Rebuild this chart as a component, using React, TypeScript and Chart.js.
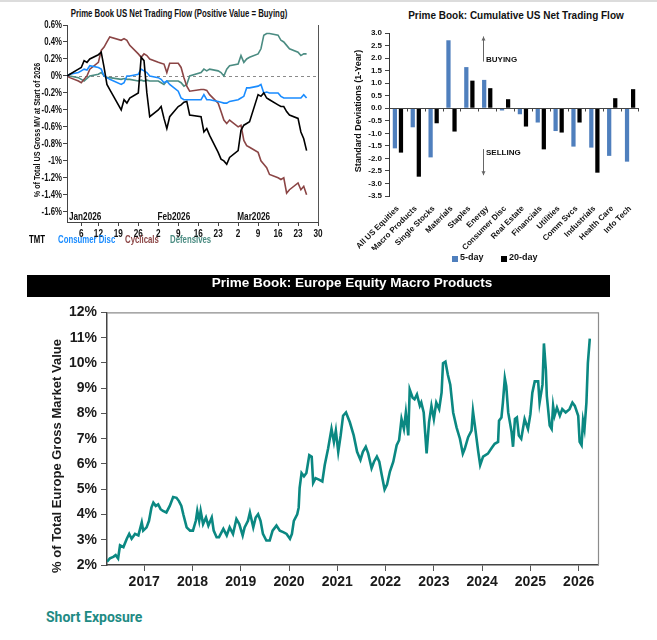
import React, { useEffect, useRef } from "react";
import { Chart, registerables } from "chart.js";

Chart.register(...registerables);

const SANS = "'Liberation Sans', Arial, sans-serif";
const NARROW_SX = 0.78;

// ---------- Chart 1: Prime Book US Net Trading Flow ----------
const flowDays = [0, 1, 4, 5, 6, 7, 8, 11, 12, 13, 14, 15, 19, 20, 21, 22, 25, 26, 27, 28, 29, 32, 33, 34, 35, 36, 39, 40, 41, 42, 43, 47, 48, 49, 50, 53, 54, 55, 56, 57, 60, 61, 62, 63, 64, 67, 68, 69, 70, 71, 74, 75, 76, 77, 78, 81, 82, 83, 84];
const flowTMT = [0, 0.02, 0.08, 0.1, 0.18, 0.16, 0.2, 0.25, 0.28, 0.1, -0.1, -0.16, -0.4, -0.28, -0.32, -0.26, -0.2, 0.22, 0.18, -0.2, -0.48, -0.4, -0.36, -0.5, -0.62, -0.48, -0.36, -0.34, -0.31, -0.3, -0.46, -0.48, -0.66, -0.62, -0.7, -0.9, -0.98, -1.0, -1.04, -0.96, -0.88, -0.64, -0.58, -0.56, -0.54, -0.22, -0.24, -0.2, -0.26, -0.28, -0.34, -0.36, -0.36, -0.42, -0.46, -0.5, -0.66, -0.74, -0.88];
const flowConsumerDisc = [0, 0.02, 0.04, 0.06, 0.08, 0.07, 0.12, 0.1, 0.08, 0.0, -0.02, -0.04, -0.1, -0.08, 0.0, 0.0, 0.02, 0.08, 0.06, 0.04, 0.0, -0.02, -0.04, -0.08, -0.06, -0.1, -0.18, -0.26, -0.28, -0.28, -0.28, -0.28, -0.22, -0.28, -0.28, -0.3, -0.31, -0.32, -0.32, -0.3, -0.28, -0.26, -0.24, -0.14, -0.14, -0.12, -0.1, -0.2, -0.19, -0.2, -0.2, -0.24, -0.26, -0.26, -0.26, -0.26, -0.26, -0.22, -0.26];
const flowCyclicals = [0, -0.02, -0.06, -0.08, -0.04, 0.0, 0.08, 0.16, 0.3, 0.34, 0.4, 0.46, 0.42, 0.44, 0.42, 0.36, 0.26, 0.22, 0.26, 0.24, 0.2, 0.16, 0.15, 0.14, 0.04, 0.15, 0.15, 0.1, -0.02, -0.12, -0.18, -0.16, -0.16, -0.17, -0.22, -0.32, -0.42, -0.52, -0.56, -0.52, -0.6, -0.58, -0.76, -0.82, -0.84, -0.9, -1.0, -1.04, -1.08, -1.16, -1.2, -1.22, -1.2, -1.38, -1.34, -1.26, -1.34, -1.3, -1.4];
const flowDefensives = [0, 0.0, -0.02, -0.04, -0.06, -0.03, 0.0, 0.02, 0.04, 0.0, -0.02, -0.02, -0.04, -0.03, -0.04, -0.04, -0.06, -0.05, -0.06, -0.05, -0.06, -0.06, -0.08, -0.1, -0.06, -0.06, -0.06, -0.08, -0.12, -0.1, 0.0, 0.04, 0.08, 0.06, 0.08, 0.06, 0.04, 0.0, 0.08, 0.12, 0.14, 0.24, 0.16, 0.2, 0.22, 0.26, 0.32, 0.48, 0.5, 0.5, 0.48, 0.42, 0.4, 0.36, 0.32, 0.28, 0.24, 0.26, 0.26];
const flowTickDays = [5, 11, 18, 25, 32, 39, 46, 53, 60, 67, 74, 81, 88];
const flowTickLabels = ["6", "12", "19", "26", "2", "9", "16", "23", "2", "9", "16", "23", "30"];
const flowMonthStarts = [0, 31, 59];
const flowMonthLabels = ["Jan2026", "Feb2026", "Mar2026"];
const flowYTicks = [-1.6, -1.4, -1.2, -1.0, -0.8, -0.6, -0.4, -0.2, 0, 0.2, 0.4, 0.6];
const flowSeriesNames = ["TMT", "Consumer Disc", "Cyclicals", "Defensives"];
const flowColors = ["#000000", "#1a8cff", "#8b4545", "#4b8c82"];

// ---------- Chart 2: Cumulative US Net Trading Flow ----------
const sectorCategories = ["All US Equities", "Macro Products", "Single Stocks", "Materials", "Staples", "Energy", "Consumer Disc", "Real Estate", "Financials", "Utilities", "Comm Svcs", "Industrials", "Health Care", "Info Tech"];
const sector5Day = [-1.6, -0.76, -1.96, 2.71, 1.64, 1.13, -0.09, -0.24, -0.57, -0.91, -1.53, -1.57, -1.9, -2.13];
const sector20Day = [-1.77, -2.73, -0.6, -0.93, 1.1, 0.8, 0.36, -0.73, -1.64, -0.97, -0.57, -2.57, 0.4, 0.76];
const buyingArrow = [1.86, 2.86];
const sellingArrow = [-1.63, -2.67];

// ---------- Chart 3: Europe Equity Macro Products ----------
const euroYears = [2016.23, 2016.29, 2016.36, 2016.41, 2016.46, 2016.5, 2016.57, 2016.64, 2016.69, 2016.74, 2016.81, 2016.88, 2016.95, 2016.98, 2017.05, 2017.1, 2017.15, 2017.19, 2017.24, 2017.29, 2017.34, 2017.39, 2017.46, 2017.53, 2017.6, 2017.67, 2017.72, 2017.77, 2017.81, 2017.88, 2017.95, 2018.01, 2018.07, 2018.1, 2018.14, 2018.17, 2018.22, 2018.28, 2018.33, 2018.4, 2018.44, 2018.5, 2018.55, 2018.64, 2018.71, 2018.77, 2018.84, 2018.91, 2018.97, 2019.04, 2019.08, 2019.15, 2019.19, 2019.26, 2019.31, 2019.36, 2019.41, 2019.46, 2019.53, 2019.6, 2019.66, 2019.74, 2019.81, 2019.88, 2019.95, 2020.02, 2020.06, 2020.1, 2020.17, 2020.2, 2020.22, 2020.26, 2020.31, 2020.36, 2020.42, 2020.47, 2020.5, 2020.55, 2020.62, 2020.69, 2020.74, 2020.81, 2020.88, 2020.93, 2020.97, 2021.02, 2021.07, 2021.12, 2021.18, 2021.26, 2021.34, 2021.41, 2021.48, 2021.53, 2021.59, 2021.64, 2021.71, 2021.76, 2021.82, 2021.87, 2021.92, 2021.98, 2022.03, 2022.09, 2022.16, 2022.23, 2022.28, 2022.33, 2022.38, 2022.42, 2022.47, 2022.5, 2022.56, 2022.6, 2022.65, 2022.71, 2022.74, 2022.79, 2022.85, 2022.9, 2022.95, 2023.0, 2023.05, 2023.11, 2023.16, 2023.19, 2023.24, 2023.29, 2023.34, 2023.4, 2023.47, 2023.54, 2023.6, 2023.64, 2023.71, 2023.78, 2023.81, 2023.85, 2023.92, 2023.96, 2024.02, 2024.12, 2024.19, 2024.26, 2024.33, 2024.35, 2024.4, 2024.43, 2024.47, 2024.5, 2024.54, 2024.61, 2024.64, 2024.68, 2024.72, 2024.76, 2024.81, 2024.88, 2024.95, 2025.0, 2025.04, 2025.09, 2025.16, 2025.19, 2025.25, 2025.28, 2025.32, 2025.34, 2025.4, 2025.44, 2025.47, 2025.5, 2025.55, 2025.61, 2025.66, 2025.73, 2025.81, 2025.87, 2025.92, 2025.99, 2026.02, 2026.06, 2026.09, 2026.12, 2026.16, 2026.19, 2026.23];
const euroShare = [2.13, 2.26, 2.32, 2.39, 2.26, 2.78, 2.71, 3.04, 3.23, 3.04, 3.23, 3.17, 3.69, 3.36, 3.49, 3.75, 4.27, 4.47, 4.34, 4.4, 4.21, 4.14, 4.08, 4.34, 4.69, 4.66, 4.53, 4.34, 4.01, 3.49, 3.36, 3.36, 3.75, 4.14, 3.75, 4.14, 3.62, 3.88, 3.56, 3.88, 3.36, 3.1, 3.1, 3.43, 3.17, 3.49, 3.23, 3.82, 3.62, 3.17, 3.49, 3.75, 4.08, 3.49, 3.88, 4.01, 3.75, 3.23, 2.97, 2.97, 3.36, 3.56, 3.36, 3.3, 3.23, 3.04, 3.23, 3.75, 4.01, 4.27, 5.05, 5.64, 5.51, 5.64, 6.35, 6.29, 5.25, 5.44, 5.38, 5.31, 5.96, 6.61, 7.39, 6.87, 7.32, 6.48, 7.13, 7.91, 8.04, 7.65, 7.13, 6.48, 6.16, 6.48, 6.68, 6.42, 5.83, 6.09, 6.29, 6.09, 5.57, 4.99, 5.18, 5.7, 6.09, 6.74, 6.94, 7.78, 7.39, 8.04, 7.13, 8.95, 8.62, 8.56, 8.75, 8.3, 8.43, 8.04, 6.42, 7.65, 8.3, 7.78, 8.43, 8.17, 8.82, 9.99, 10.05, 9.53, 9.14, 8.04, 7.45, 7.0, 6.41, 6.6, 7.06, 7.32, 8.1, 7.52, 6.48, 5.96, 6.29, 6.41, 6.61, 6.8, 6.87, 7.71, 7.84, 8.43, 9.4, 9.08, 8.04, 7.26, 6.68, 7.78, 7.84, 7.13, 7.0, 7.78, 7.39, 7.97, 8.82, 9.27, 9.27, 8.43, 9.14, 10.77, 9.73, 8.69, 7.52, 7.39, 8.3, 7.91, 8.23, 7.91, 8.17, 8.04, 8.17, 8.43, 8.3, 7.91, 6.87, 6.74, 7.71, 7.39, 8.43, 9.99, 10.96];
const euroTickYears = [2017, 2018, 2019, 2020, 2021, 2022, 2023, 2024, 2025, 2026];

type TextOpts = { size: number; color?: string; align?: CanvasTextAlign; baseline?: CanvasTextBaseline; sx?: number; rotate?: number };

function drawText(ctx: CanvasRenderingContext2D, text: string, x: number, y: number, o: TextOpts) {
  ctx.save();
  ctx.translate(x, y);
  if (o.rotate) ctx.rotate(o.rotate);
  ctx.scale(o.sx ?? 1, 1);
  ctx.font = `bold ${o.size}px ${SANS}`;
  ctx.fillStyle = o.color ?? "#111";
  ctx.textAlign = o.align ?? "left";
  ctx.textBaseline = o.baseline ?? "middle";
  ctx.fillText(text, 0, 0);
  ctx.restore();
}

const flowDecor = {
  id: "flowDecor",
  beforeDatasetsDraw(chart: any) {
    const { ctx, chartArea: a, scales } = chart;
    const y0 = Math.round(scales.y.getPixelForValue(0)) + 0.5;
    ctx.save();
    ctx.strokeStyle = "#8a8a8a";
    ctx.lineWidth = 1;
    ctx.setLineDash([3, 3]);
    ctx.beginPath();
    ctx.moveTo(a.left, y0);
    ctx.lineTo(a.right, y0);
    ctx.stroke();
    ctx.restore();
  },
  afterDraw(chart: any) {
    const { ctx, chartArea: a, scales } = chart;
    ctx.save();
    ctx.strokeStyle = "#555";
    ctx.lineWidth = 1;
    ctx.beginPath();
    ctx.moveTo(a.right + 0.5, a.top);
    ctx.lineTo(a.right + 0.5, a.bottom);
    ctx.stroke();
    ctx.restore();
    scales.y.ticks.forEach((t: any) => {
      drawText(ctx, `${Math.round(t.value * 10) / 10}%`, a.left - 5, scales.y.getPixelForValue(t.value), { size: 10, align: "right", sx: NARROW_SX });
    });
    scales.x.ticks.forEach((t: any, i: number) => {
      drawText(ctx, flowTickLabels[i], scales.x.getPixelForValue(t.value), a.bottom + 12, { size: 10.5, align: "center", sx: NARROW_SX });
    });
    flowMonthStarts.forEach((d, i) => {
      drawText(ctx, flowMonthLabels[i], scales.x.getPixelForValue(d) + 2, a.bottom - 4.5, { size: 10.5, sx: NARROW_SX });
    });
    drawText(ctx, "% of Total US Gross MV at Start of 2026", 37, 130, { size: 9.2, align: "center", sx: NARROW_SX, rotate: -Math.PI / 2 });
  },
};

const sectorDecor = {
  id: "sectorDecor",
  afterDatasetsDraw(chart: any) {
    const { ctx, chartArea: a, scales } = chart;
    const x = scales.x;
    const y = scales.y;
    const y0 = Math.round(y.getPixelForValue(0)) + 0.5;
    ctx.save();
    ctx.strokeStyle = "#444";
    ctx.lineWidth = 1;
    ctx.beginPath();
    ctx.moveTo(a.left, y0);
    ctx.lineTo(a.right, y0);
    for (let i = 0; i < sectorCategories.length; i++) {
      const px = i + 1 < sectorCategories.length ? Math.round((x.getPixelForValue(i) + x.getPixelForValue(i + 1)) / 2) : Math.round(a.right) - 1;
      ctx.moveTo(px + 0.5, y0);
      ctx.lineTo(px + 0.5, y0 + 3);
    }
    ctx.stroke();

    const ax = Math.round(x.getPixelForValue(5) - 4);
    ctx.strokeStyle = "#666";
    ctx.fillStyle = "#666";
    const arrow = (from: number, to: number) => {
      const p1 = y.getPixelForValue(from);
      const p2 = y.getPixelForValue(to);
      const dir = Math.sign(p2 - p1);
      ctx.beginPath();
      ctx.moveTo(ax + 0.5, p1);
      ctx.lineTo(ax + 0.5, p2);
      ctx.stroke();
      ctx.beginPath();
      ctx.moveTo(ax + 0.5, p2);
      ctx.lineTo(ax - 1.5, p2 - dir * 4);
      ctx.lineTo(ax + 2.5, p2 - dir * 4);
      ctx.closePath();
      ctx.fill();
    };
    arrow(buyingArrow[0], buyingArrow[1]);
    arrow(sellingArrow[0], sellingArrow[1]);
    ctx.restore();
    drawText(ctx, "BUYING", ax + 3, y.getPixelForValue(buyingArrow[0] + 0.08), { size: 8 });
    drawText(ctx, "SELLING", ax + 3, y.getPixelForValue(sellingArrow[0] - 0.15), { size: 8 });
    drawText(ctx, "Standard Deviations (1-Year)", 19, 111, { size: 9, align: "center", rotate: -Math.PI / 2 });
  },
};

const euroDecor = {
  id: "euroDecor",
  afterDraw(chart: any) {
    const { ctx, chartArea: a } = chart;
    ctx.save();
    ctx.strokeStyle = "#8c8c8c";
    ctx.lineWidth = 1.2;
    ctx.beginPath();
    ctx.moveTo(a.left, a.top + 0.5);
    ctx.lineTo(a.right + 0.5, a.top + 0.5);
    ctx.lineTo(a.right + 0.5, a.bottom);
    ctx.stroke();
    ctx.restore();
    drawText(ctx, "% of Total Europe Gross Market Value", 57, 156, { size: 13, align: "center", color: "#1a1a1a", rotate: -Math.PI / 2 });
  },
};

function flowConfig(): any {
  const series = [flowTMT, flowConsumerDisc, flowCyclicals, flowDefensives];
  return {
    type: "line",
    data: {
      datasets: series.map((vals, k) => ({
        label: flowSeriesNames[k],
        data: flowDays.map((d, i) => ({ x: d, y: vals[i] })),
        borderColor: flowColors[k],
        borderWidth: 1.6,
        pointRadius: 0,
        tension: 0,
        fill: false,
      })),
    },
    options: {
      animation: false,
      responsive: false,
      layout: { padding: { top: 25, right: 12, left: 0, bottom: 0 } },
      plugins: { legend: { display: false }, tooltip: { enabled: false } },
      scales: {
        x: {
          type: "linear",
          min: 0,
          max: 88,
          afterBuildTicks: (s: any) => { s.ticks = flowTickDays.map((v) => ({ value: v })); },
          afterFit: (s: any) => { s.height = 18; },
          ticks: { display: false, autoSkip: false },
          grid: { drawOnChartArea: false, drawTicks: true, tickLength: 4, color: "#444" },
          border: { display: true, color: "#444", width: 1 },
        },
        y: {
          min: -1.72,
          max: 0.6,
          afterBuildTicks: (s: any) => { s.ticks = flowYTicks.map((v) => ({ value: v })); },
          afterFit: (s: any) => { s.width = 67; },
          ticks: { display: false, autoSkip: false },
          grid: { drawOnChartArea: false, drawTicks: true, tickLength: 4, color: "#444" },
          border: { display: true, color: "#444", width: 1 },
        },
      },
    },
    plugins: [flowDecor],
  };
}

function sectorConfig(): any {
  return {
    type: "bar",
    data: {
      labels: sectorCategories,
      datasets: [
        { label: "5-day", data: sector5Day, backgroundColor: "#4f7fbd", categoryPercentage: 0.68, barPercentage: 0.7 },
        { label: "20-day", data: sector20Day, backgroundColor: "#000000", categoryPercentage: 0.68, barPercentage: 0.7 },
      ],
    },
    options: {
      animation: false,
      responsive: false,
      layout: { padding: { top: 33, right: 18, left: 0, bottom: 0 } },
      plugins: { legend: { display: false }, tooltip: { enabled: false } },
      scales: {
        x: {
          afterFit: (s: any) => { s.height = 54; },
          ticks: {
            autoSkip: false,
            minRotation: 45,
            maxRotation: 45,
            padding: 0,
            color: "#111",
            font: { family: SANS, size: 8, weight: "bold" },
          },
          grid: { display: false },
          border: { display: false },
        },
        y: {
          min: -3.5,
          max: 3,
          afterFit: (s: any) => { s.width = 49; },
          ticks: {
            stepSize: 0.5,
            autoSkip: false,
            padding: 3,
            color: "#111",
            font: { family: SANS, size: 8, weight: "bold" },
            callback: (v: any) => Number(v).toFixed(1),
          },
          grid: { drawOnChartArea: false, drawTicks: true, tickLength: 4, color: "#444" },
          border: { display: true, color: "#333", width: 1 },
        },
      },
    },
    plugins: [sectorDecor],
  };
}

function euroConfig(): any {
  return {
    type: "line",
    data: {
      datasets: [
        {
          label: "Europe Macro Products",
          data: euroYears.map((x, i) => ({ x, y: euroShare[i] })),
          borderColor: "#0b8882",
          borderWidth: 2.6,
          pointRadius: 0,
          tension: 0,
          fill: false,
        },
      ],
    },
    options: {
      animation: false,
      responsive: false,
      layout: { padding: { top: 8, right: 59, left: 0, bottom: 0 } },
      plugins: { legend: { display: false }, tooltip: { enabled: false } },
      scales: {
        x: {
          type: "linear",
          min: 2016.23,
          max: 2026.4,
          afterBuildTicks: (s: any) => { s.ticks = euroTickYears.map((v) => ({ value: v })); },
          afterFit: (s: any) => { s.height = 35; },
          ticks: {
            autoSkip: false,
            maxRotation: 0,
            padding: 3,
            color: "#1a1a1a",
            font: { family: SANS, size: 14, weight: "bold" },
            callback: (_v: any, i: number) => String(euroTickYears[i]),
          },
          grid: { drawOnChartArea: false, drawTicks: true, tickLength: 6, color: "#555" },
          border: { display: true, color: "#444", width: 1.5 },
        },
        y: {
          min: 2,
          max: 12,
          afterFit: (s: any) => { s.width = 107; },
          ticks: {
            stepSize: 1,
            autoSkip: false,
            padding: 4,
            color: "#1a1a1a",
            font: { family: SANS, size: 14, weight: "bold" },
            callback: (v: any) => `${v}%`,
          },
          grid: { drawOnChartArea: false, drawTicks: true, tickLength: 6, color: "#555" },
          border: { display: true, color: "#444", width: 1.5 },
        },
      },
    },
    plugins: [euroDecor],
  };
}

function ChartCanvas({ config, left, top, width, height }: { config: () => any; left: number; top: number; width: number; height: number }) {
  const ref = useRef<HTMLCanvasElement>(null);
  useEffect(() => {
    const chart = new Chart(ref.current as HTMLCanvasElement, config());
    return () => chart.destroy();
  }, []);
  return <canvas ref={ref} width={width} height={height} style={{ position: "absolute", left, top, width, height }} />;
}

function Text({ x, cy, children, size, color = "#111", center = false, h = 14, sx = 1, family = SANS }: any) {
  const scale = sx !== 1 ? ` scaleX(${sx})` : "";
  return (
    <div
      style={{
        position: "absolute",
        left: x,
        top: cy - h / 2,
        height: h,
        lineHeight: `${h}px`,
        whiteSpace: "nowrap",
        font: `bold ${size}px ${family}`,
        color,
        transformOrigin: center ? "center center" : "left center",
        transform: center ? `translateX(-50%)${scale}` : scale || undefined,
      }}
    >
      {children}
    </div>
  );
}

export default function App() {
  useEffect(() => {
    document.body.style.margin = "0";
  }, []);
  const legend1X = [29, 58, 125, 170];
  return (
    <div style={{ position: "relative", width: 657, height: 640, background: "#fff", overflow: "hidden" }}>
      <div style={{ position: "absolute", left: 0, top: 0, width: 657, height: 2, background: "#dcdcdc" }} />

      <Text x={178.5} cy={14.5} center size={10} sx={NARROW_SX}>
        Prime Book US Net Trading Flow (Positive Value = Buying)
      </Text>
      <ChartCanvas config={flowConfig} left={0} top={0} width={330} height={240} />
      {flowSeriesNames.map((n, i) => (
        <Text key={n} x={legend1X[i]} cy={241} size={10} sx={NARROW_SX} color={flowColors[i]}>
          {n}
        </Text>
      ))}

      <Text x={516} cy={17} center size={10}>
        Prime Book: Cumulative US Net Trading Flow
      </Text>
      <ChartCanvas config={sectorConfig} left={340} top={0} width={317} height={250} />
      <div style={{ position: "absolute", left: 452, top: 256, width: 6, height: 6, background: "#4f7fbd" }} />
      <Text x={460} cy={259} size={9}>5-day</Text>
      <div style={{ position: "absolute", left: 501, top: 256, width: 6, height: 6, background: "#000" }} />
      <Text x={509} cy={259} size={9}>20-day</Text>

      <div style={{ position: "absolute", left: 27, top: 275, width: 583, height: 22, background: "#000" }}>
        <div
          style={{
            position: "absolute",
            left: 325,
            top: 0,
            height: 22,
            lineHeight: "22px",
            transform: "translateX(-50%)",
            whiteSpace: "nowrap",
            color: "#fff",
            font: `bold 13.5px ${SANS}`,
          }}
        >
          Prime Book: Europe Equity Macro Products
        </div>
      </div>
      <ChartCanvas config={euroConfig} left={0} top={300} width={657} height={300} />

      <Text x={46} cy={618} h={18} size={14} family={`Roboto, ${SANS}`} color="#1f8b84">
        Short Exposure
      </Text>
    </div>
  );
}
